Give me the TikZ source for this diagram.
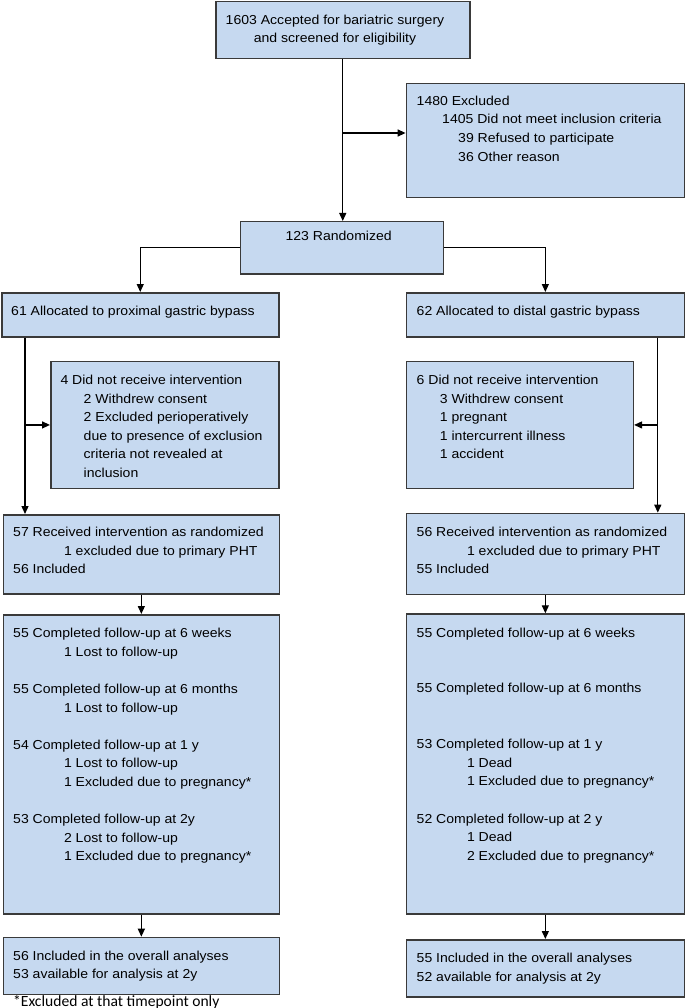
\documentclass[tikz,border=0pt]{standalone}
\usepackage{fontspec}
\usetikzlibrary{arrows.meta}
\newfontfamily\boxfont{Liberation Sans}[FakeStretch=1.08]
\newfontfamily\notefont{Carlito}
\definecolor{boxfill}{RGB}{198,217,240}
\definecolor{boxline}{RGB}{58,58,58}

\begin{document}
\begin{tikzpicture}[x=1pt,y=1pt,yscale=-1,xscale=1,
  box/.style={draw=boxline,fill=boxfill,line width=1.5pt,inner sep=0pt,anchor=north west},
  txt/.style={inner sep=0pt,align=left,anchor=base west,font=\boxfont\fontsize{13}{18.6}\selectfont},
  arr/.style={line width=1.3pt,-{Triangle[length=8pt,width=7pt]}}]
\useasboundingbox (0,0) rectangle (685,1008);

%Boxes
\node[box,minimum width=254pt,minimum height=57pt] (screen) at (215,1) {};
\node[box,minimum width=278pt,minimum height=114pt] (excl) at (405.6,83) {};
\node[box,minimum width=203pt,minimum height=52pt] (rand) at (239.5,221) {};
\node[box,minimum width=277pt,minimum height=44pt] (allocL) at (1,292) {};
\node[box,minimum width=278pt,minimum height=44pt] (allocR) at (405.6,292) {};
\node[box,minimum width=228pt,minimum height=127pt] (noIntL) at (50,360.7) {};
\node[box,minimum width=227pt,minimum height=127pt] (noIntR) at (405.6,360.7) {};
\node[box,minimum width=276pt,minimum height=79pt] (recvL) at (2.6,514) {};
\node[box,minimum width=278pt,minimum height=81pt] (recvR) at (405.6,512.7) {};
\node[box,minimum width=276pt,minimum height=299pt] (fupL) at (2.6,614) {};
\node[box,minimum width=278pt,minimum height=300pt] (fupR) at (405.6,613.3) {};
\node[box,minimum width=276pt,minimum height=57pt] (finL) at (2.6,936.7) {};
\node[box,minimum width=278pt,minimum height=57pt] (finR) at (405.6,939) {};

%Branch points
\coordinate (j1) at (342,133);
\coordinate (lx) at (25,0);
\coordinate (rx) at (657.8,0);

%Straight Lines
\draw[arr] (screen.south) -- (screen.south |- rand.north);
\draw[arr] (j1) -- (j1 -| excl.west);
\draw[arr] (rand.west) -| (allocL.north);
\draw[arr] (rand.east) -| (allocR.north);
\draw[arr] (allocL.south -| lx) -- (recvL.north -| lx);
\draw[arr] (noIntL.west -| lx) -- (noIntL.west);
\draw[arr] (allocR.south -| rx) -- (recvR.north -| rx);
\draw[arr] (noIntR.east -| rx) -- (noIntR.east);
\draw[arr] (recvL.south) -- (fupL.north);
\draw[arr] (recvR.south) -- (fupR.north);
\draw[arr] (fupL.south) -- (finL.north);
\draw[arr] (fupR.south) -- (finR.north);

% Text Node (placed at the baseline of the last line)
\node[txt,align=center,anchor=base] (tScreen) at (335,43) {1603 Accepted for bariatric surgery\\and screened for eligibility};
% Text Node
\node[txt] (tExcl) at (416.5,161.2) {1480 Excluded\\
  \hspace*{25.5pt}1405 Did not meet inclusion criteria\\
  \hspace*{41.5pt}39 Refused to participate\\
  \hspace*{41.5pt}36 Other reason};
% Text Node
\node[txt,anchor=base] (tRand) at (338.7,240.4) {123 Randomized};
% Text Node
\node[txt] (tAllocL) at (11,315.1) {61 Allocated to proximal gastric bypass};
% Text Node
\node[txt] (tAllocR) at (416.5,315.1) {62 Allocated to distal gastric bypass};
% Text Node
\node[txt] (tNoIntL) at (60.3,477.4) {4 Did not receive intervention\\
  \hspace*{23.2pt}2 Withdrew consent\\
  \hspace*{23.2pt}2 Excluded perioperatively\\
  \hspace*{23.2pt}due to presence of exclusion\\
  \hspace*{23.2pt}criteria not revealed at\\
  \hspace*{23.2pt}inclusion};
% Text Node
\node[txt] (tNoIntR) at (416.5,458.8) {6 Did not receive intervention\\
  \hspace*{23.2pt}3 Withdrew consent\\
  \hspace*{23.2pt}1 pregnant\\
  \hspace*{23.2pt}1 intercurrent illness\\
  \hspace*{23.2pt}1 accident};
% Text Node
\node[txt] (tRecvL) at (13,573.9) {57 Received intervention as randomized\\
  \hspace*{50.8pt}1 excluded due to primary PHT\\
  56 Included};
% Text Node
\node[txt] (tRecvR) at (416.5,573.7) {56 Received intervention as randomized\\
  \hspace*{50.3pt}1 excluded due to primary PHT\\
  55 Included};
% Text Node
\node[txt] (tFupL) at (13,860.9) {55 Completed follow-up at 6 weeks\\
  \hspace*{50.8pt}1 Lost to follow-up\\[18.6pt]
  55 Completed follow-up at 6 months\\
  \hspace*{50.8pt}1 Lost to follow-up\\[18.6pt]
  54 Completed follow-up at 1 y\\
  \hspace*{50.8pt}1 Lost to follow-up\\
  \hspace*{50.8pt}1 Excluded due to pregnancy*\\[18.6pt]
  53 Completed follow-up at 2y\\
  \hspace*{50.8pt}2 Lost to follow-up\\
  \hspace*{50.8pt}1 Excluded due to pregnancy*};
% Text Node
\node[txt] (tFupR) at (416.5,860.3) {55 Completed follow-up at 6 weeks\\[37.2pt]
  55 Completed follow-up at 6 months\\[37.2pt]
  53 Completed follow-up at 1 y\\
  \hspace*{50.3pt}1 Dead\\
  \hspace*{50.3pt}1 Excluded due to pregnancy*\\[18.6pt]
  52 Completed follow-up at 2 y\\
  \hspace*{50.3pt}1 Dead\\
  \hspace*{50.3pt}2 Excluded due to pregnancy*};
% Text Node
\node[txt] (tFinL) at (13,978.7) {56 Included in the overall analyses\\53 available for analysis at 2y};
% Text Node
\node[txt] (tFinR) at (416.5,981.3) {55 Included in the overall analyses\\52 available for analysis at 2y};
% Text Node
\node[inner sep=0pt,anchor=base west,font=\notefont\fontsize{15.6}{18}\selectfont] (tNote) at (13,1006) {*Excluded at that timepoint only};

\end{tikzpicture}
\end{document}
